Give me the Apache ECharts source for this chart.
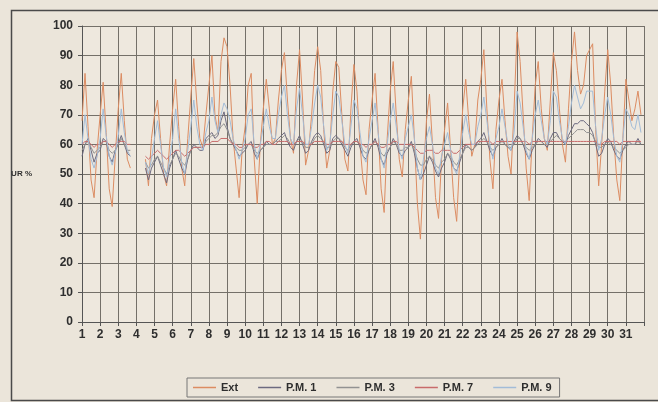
<!DOCTYPE html>
<html>
<head>
<meta charset="utf-8">
<script src="https://cdn.jsdelivr.net/npm/echarts@6/dist/echarts.min.js"></script>
<style>
html,body{margin:0;padding:0;background:#ebe5da;}
#c{width:658px;height:402px;}
</style>
</head>
<body>
<div id="c"></div>
<script>
// x ticks: days of month
const dayLabels = [1,2,3,4,5,6,7,8,9,10,11,12,13,14,15,16,17,18,19,20,21,22,23,24,25,26,27,28,29,30,31];
const seriesNames = ['Ext','P.M. 1','P.M. 3','P.M. 7','P.M. 9'];
// 6 readings per day (every 4 h), null = missing
const ext = [
68,84,66,48,42,58, 70,81,64,45,39,56, 72,84,68,55,52,null, null,null,null,55,46,62,
70,75,62,50,46,60, 72,82,66,52,46,62, 76,89,74,62,59,70, 80,90,70,64,88,96,
93,80,62,52,42,58, 66,80,84,55,40,60, 72,82,72,60,62,75, 85,91,75,62,57,80,
92,75,53,58,70,85, 93,85,65,52,58,78, 88,86,70,55,51,72, 87,78,60,48,43,65,
75,84,65,45,37,62, 78,88,70,55,49,65, 75,83,62,40,28,50, 68,77,60,42,35,55,
65,74,58,42,34,55, 72,82,68,56,60,75, 82,92,72,55,45,65, 75,82,68,56,50,72,
98,88,70,52,41,62, 80,88,72,62,58,75, 91,85,72,60,54,72, 88,98,85,77,80,90,
92,94,65,46,60,78, 92,80,62,48,41,62, 82,75,68,72,78,70
];
const pm1 = [
56,60,62,58,54,57, 58,62,61,56,54,58, 60,63,60,57,56,null, null,null,null,52,48,52,
54,56,53,50,47,52, 55,58,55,52,50,55, 58,60,59,58,58,62, 63,64,62,63,68,71,
66,62,60,58,56,57, 58,60,61,57,55,58, 59,61,60,60,61,62, 63,64,61,59,58,61,
63,60,57,58,61,63, 64,63,60,57,58,62, 63,62,60,58,56,59, 61,62,59,56,55,58,
60,62,59,55,53,57, 59,62,60,57,56,58, 59,61,57,52,48,50, 53,56,54,51,49,52,
54,57,55,52,51,54, 57,60,59,58,59,61, 62,64,61,58,56,59, 60,62,60,59,58,61,
63,62,60,57,55,58, 60,62,61,60,59,62, 64,64,62,61,60,63, 65,67,67,68,68,67,
66,64,60,56,57,60, 62,61,58,56,55,58, 60,61,60,60,62,60
];
const pm3 = [
58,60,61,59,57,58, 59,61,61,58,57,58, 60,62,60,58,58,null, null,null,null,54,52,53,
55,56,54,52,50,53, 55,57,56,54,53,55, 58,59,59,59,59,61, 62,63,63,64,66,67,
65,62,60,59,58,58, 59,60,60,58,57,58, 59,60,60,60,61,61, 62,63,62,60,60,61,
62,61,59,59,60,62, 63,62,61,59,59,61, 62,62,61,59,58,60, 61,61,60,58,57,58,
60,61,60,57,56,58, 59,61,60,58,58,59, 59,60,58,55,53,53, 55,56,55,53,52,54,
55,57,56,54,53,55, 57,59,59,58,59,60, 61,62,61,59,58,59, 60,61,60,59,59,60,
62,62,60,59,58,59, 60,61,61,60,60,61, 62,63,62,61,61,62, 63,64,65,65,65,64,
64,63,61,59,59,60, 61,60,59,58,57,58, 59,60,60,60,61,60
];
const pm7 = [
60,61,61,60,59,60, 60,61,61,60,59,60, 61,61,61,60,60,null, null,null,null,56,55,56,
57,58,57,56,55,56, 57,58,58,57,56,57, 58,59,59,59,59,60, 60,61,61,61,62,62,
62,61,60,60,59,59, 60,60,60,59,59,60, 60,61,61,60,60,61, 61,61,61,60,60,61,
61,61,60,60,60,61, 61,61,61,60,60,61, 61,61,61,60,60,60, 61,61,60,60,59,60,
60,61,60,59,59,60, 60,61,61,60,60,60, 60,60,59,58,57,57, 58,58,58,57,57,58,
58,58,58,57,57,58, 59,60,60,60,60,61, 61,61,61,61,60,61, 61,61,61,61,61,61,
61,61,61,61,60,61, 61,61,61,61,61,61, 61,61,61,61,61,61, 61,61,61,61,61,61,
61,61,61,60,60,61, 61,61,61,61,60,61, 61,61,61,61,61,61
];
const pm9 = [
60,70,62,55,52,56, 62,72,63,56,53,57, 63,72,64,58,56,null, null,null,null,54,50,55,
62,68,60,52,49,55, 62,72,62,54,50,58, 66,75,66,60,58,64, 68,76,68,64,70,74,
72,68,62,58,55,58, 62,70,72,60,55,60, 66,72,66,62,62,70, 76,80,70,62,60,72,
79,70,60,60,66,74, 80,76,66,58,60,70, 78,76,68,60,57,66, 75,72,64,56,54,62,
68,74,64,55,52,60, 68,74,66,58,55,62, 66,70,62,52,48,55, 62,66,60,52,50,56,
60,64,58,52,50,56, 64,70,64,60,60,66, 70,76,68,60,55,62, 66,72,66,60,58,64,
78,74,66,58,55,62, 70,75,68,62,60,68, 78,76,68,62,60,66, 74,80,76,72,74,78,
78,78,66,58,62,70, 76,70,62,56,54,62, 72,70,66,65,70,64
];
const colors = ['#dc8c62','#6c6a80','#929292','#c86b6b','#a2bcd8'];
const allValues = [ext, pm1, pm3, pm7, pm9];

const chart = echarts.init(document.getElementById('c'), null, {renderer:'canvas'});
const lab = {fontFamily:'Liberation Sans, Arial, sans-serif', fontWeight:'bold', color:'#2e2e2e'};
chart.setOption({
  animation:false,
  backgroundColor:'#ebe5da',
  graphic:[{type:'rect', left:9, top:8, shape:{width:700, height:390}, style:{fill:'none', stroke:'#4a4a4a', lineWidth:1.5}, silent:true}],
  grid:{left:82, right:14, top:26, bottom:80, show:true, backgroundColor:'#eee8de', borderWidth:0},
  legend:{
    left:187, top:378, data:seriesNames, icon:'rect', itemWidth:23, itemHeight:1.5, itemGap:20,
    padding:[4,8,4,6], borderColor:'#777', borderWidth:1, backgroundColor:'#ebe5da',
    textStyle:Object.assign({fontSize:11}, lab)
  },
  xAxis:{
    type:'value', min:1, max:32, interval:1,
    axisLine:{lineStyle:{color:'#555', width:1}},
    axisTick:{show:true, length:4, lineStyle:{color:'#555'}},
    splitLine:{show:true, lineStyle:{color:'#747069', width:1}},
    axisLabel:Object.assign({fontSize:12, margin:7, formatter:v => dayLabels.includes(v) ? String(v) : ''}, lab)
  },
  yAxis:{
    type:'value', min:0, max:100, interval:10,
    name:'UR %', nameLocation:'middle', nameRotate:0, nameGap:50,
    nameTextStyle:Object.assign({fontSize:8}, lab),
    axisLine:{show:true, lineStyle:{color:'#555', width:1}},
    axisTick:{show:true, length:4, lineStyle:{color:'#555'}},
    splitLine:{show:true, lineStyle:{color:'#747069', width:1}},
    axisLabel:Object.assign({fontSize:12, margin:9}, lab)
  },
  series: seriesNames.map((n, k) => ({
    name:n, type:'line', showSymbol:false, connectNulls:false,
    color:colors[k], lineStyle:{width:1, color:colors[k]},
    data: allValues[k].map((v, i) => [1 + i/6, v])
  }))
});
</script>
</body>
</html>
